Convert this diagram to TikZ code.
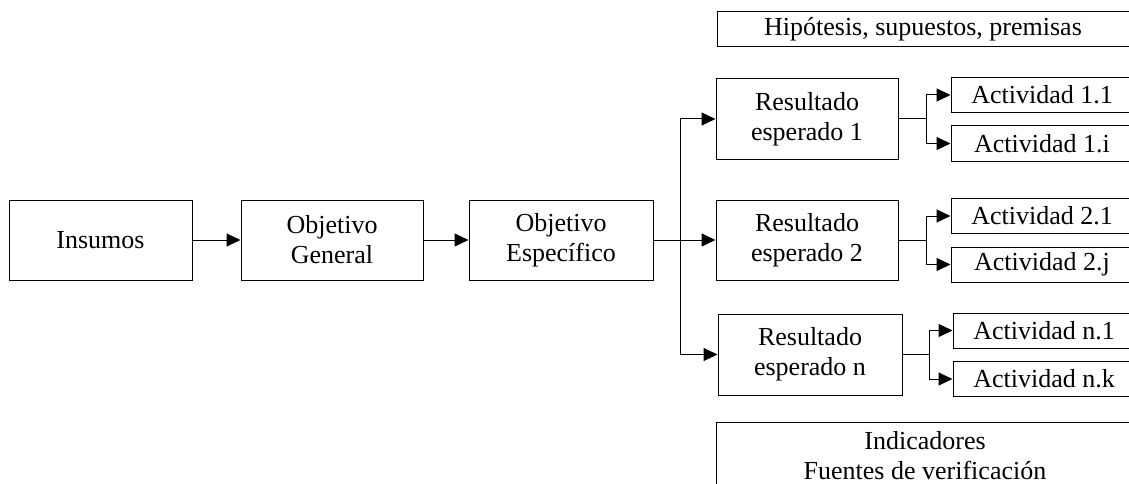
\documentclass[tikz,border=0pt]{standalone}
\usepackage{fontspec}
\setmainfont{Liberation Serif}
\usetikzlibrary{arrows.meta}
\begin{document}
\begin{tikzpicture}[x=1pt,y=-1pt,
  font=\fontsize{26}{30}\selectfont,
  box/.style={draw, line width=1pt, inner sep=0pt, align=center,
    minimum width=182pt, minimum height=80pt},
  actbox/.style={draw, line width=1pt, inner sep=0pt, align=center,
    minimum width=182pt, minimum height=35pt},
  arr/.style={line width=1pt, -{Triangle[length=14pt,width=13pt]}},
  link/.style={line width=1pt}]
\useasboundingbox (0,0) rectangle (1129,484);
\clip (0,0) rectangle (1129,484);

% main chain
\node[box, minimum width=183pt] (ins) at (100.5,240) {Insumos};
\node[box] (og) at (332,240) {Objetivo\\General};
\node[box, minimum width=184pt] (oe) at (561,240) {Objetivo\\Específico};

% expected results
\node[box] (r1) at (807,119) {Resultado\\esperado 1};
\node[box] (r2) at (807,240) {Resultado\\esperado 2};
\node[box, minimum width=184pt, minimum height=81pt] (rn) at (810,354.5) {Resultado\\esperado n};

% activities
\node[actbox] (a11) at (1042,95) {Actividad 1.1};
\node[actbox] (a1i) at (1042,143.5) {Actividad 1.i};
\node[actbox] (a21) at (1042,216) {Actividad 2.1};
\node[actbox] (a2j) at (1042,264.5) {Actividad 2.j};
\node[actbox] (an1) at (1044,330.5) {Actividad n.1};
\node[actbox] (ank) at (1044,379) {Actividad n.k};

% side boxes
\node[draw, line width=1pt, inner sep=0pt, minimum width=412pt, minimum height=35pt]
  (hip) at (923,29.5) {Hipótesis, supuestos, premisas};
\node[draw, line width=1pt, inner sep=0pt, align=center, minimum width=418pt, minimum height=68pt]
  (ind) at (925,456) {Indicadores\\Fuentes de verificación};

% connectors
\draw[arr] (ins) -- (og);
\draw[arr] (og) -- (oe);
\draw[arr] (oe.east) -- (r2.west);
\draw[arr] (oe.east) -- ++(27,0) |- (r1.west);
\draw[arr] (oe.east) -- ++(27,0) |- (rn.west);

\draw[arr] (r1.east) -- ++(28,0) |- (a11.west);
\draw[arr] (r1.east) -- ++(28,0) |- (a1i.west);
\draw[arr] (r2.east) -- ++(28,0) |- (a21.west);
\draw[arr] (r2.east) -- ++(28,0) |- (a2j.west);
\draw[arr] (rn.east) -- ++(27,0) |- (an1.west);
\draw[arr] (rn.east) -- ++(27,0) |- (ank.west);
\end{tikzpicture}
\end{document}
